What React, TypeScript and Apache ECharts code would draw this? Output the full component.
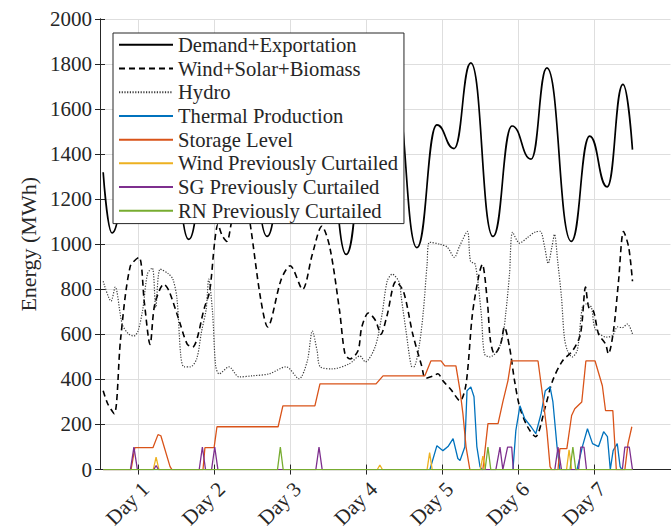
import React, { useEffect, useRef } from "react";
import * as echarts from "echarts";

// x = hour of the week, y = energy (MWh)
const dayTickHours = [12, 36, 60, 84, 108, 132, 156];
const dayLabels = ["Day 1", "Day 2", "Day 3", "Day 4", "Day 5", "Day 6", "Day 7"];
const yTicks = [0, 200, 400, 600, 800, 1000, 1200, 1400, 1600, 1800, 2000];

const seriesNames = [
  "Demand+Exportation",
  "Wind+Solar+Biomass",
  "Hydro",
  "Thermal Production",
  "Storage Level",
  "Wind Previously Curtailed",
  "SG Previously Curtailed",
  "RN Previously Curtailed",
];

// local extrema of demand curve
const demandData = [
  [1, 1320], [3.8, 1050], [10.1, 1500], [15.5, 1420], [21, 1760], [28, 1022],
  [34.3, 1510], [39.7, 1420], [45.5, 1770], [52.7, 1035], [59, 1500], [64.4, 1410],
  [70.5, 1760], [77.7, 955], [84, 1490], [89.4, 1400], [93, 1700], [100, 985],
  [106.3, 1530], [111.7, 1425], [117, 1805], [124, 1035], [130, 1525], [136, 1378],
  [141, 1783], [148.7, 1013], [154.5, 1480], [160, 1255], [165, 1710], [168, 1420],
];

const renewableData = [
  [1, 350], [2.5, 290], [4.5, 248], [6.5, 580], [9.5, 900], [12.3, 942], [14, 740],
  [15.8, 555], [17.3, 735], [20.2, 823], [21.8, 792], [25, 660], [27.5, 557], [29.2, 544],
  [33, 721], [34.6, 792], [36.2, 1013], [37.2, 1088], [38.5, 1040], [40, 1013], [41.5, 1100],
  [43.5, 1230], [45.5, 1250], [47.5, 1080], [50.7, 757], [52.9, 633], [57.2, 845], [60, 905],
  [63.9, 800], [67, 956], [70, 1080], [72.5, 987], [75.6, 703], [77.3, 513], [78.9, 491],
  [81.4, 527], [82.6, 633], [84.7, 695], [87, 660], [88.6, 600], [90.5, 680], [93.4, 835],
  [95.8, 788], [98.7, 600], [101.5, 460], [102.7, 405], [105.2, 416], [106.6, 425],
  [108.2, 394], [110.7, 355], [113.6, 305], [115.5, 380], [117.5, 690], [119.6, 867],
  [120.6, 911], [122.2, 748], [123.2, 571], [124.5, 513], [126.4, 557], [127.6, 633],
  [129.2, 544], [130.8, 394], [132.4, 279], [134.9, 190], [137.4, 146], [140.5, 279],
  [142.8, 394], [145.9, 482], [149.1, 527], [151.6, 602], [153.2, 810], [154.2, 721],
  [155.7, 703], [157.3, 602], [159.5, 557], [160.4, 513], [162, 615], [163.6, 836],
  [165.2, 1057], [166.8, 987], [168, 836],
];

const hydroData = [
  [1, 836], [3.5, 748], [4.8, 810], [7, 646], [9, 602], [10.7, 593], [12, 615], [13.5, 712],
  [15, 870], [16.5, 895], [17.6, 720], [19, 890], [21.5, 870], [23, 845], [24.3, 757],
  [25.5, 504], [26.5, 456], [28.5, 456], [30.5, 491], [32, 610], [33.5, 712], [34.3, 845],
  [35.5, 700], [36.5, 460], [37.6, 425], [40.7, 456], [43.9, 411], [48, 416], [53.4, 425],
  [58.7, 456], [62.8, 403], [65.4, 482], [67, 615], [68.5, 527], [69.5, 456], [73.3, 447],
  [78.6, 469], [82, 504], [83.7, 478], [86.8, 544], [89, 690], [90.6, 836], [92.2, 867],
  [94.4, 832], [95, 770], [96.6, 610], [98.2, 460], [99, 456], [100.7, 549], [102, 700],
  [103.2, 911], [104, 1009], [107.3, 1000], [109.6, 987], [111.8, 942], [113.4, 990],
  [115.9, 1057], [116.9, 925], [118.4, 911], [120.3, 690], [121.3, 513], [123, 500],
  [125.4, 527], [127, 588], [128, 690], [129.2, 867], [130.2, 1053], [132.4, 1005],
  [134.9, 1030], [137.4, 1055], [138.9, 1057], [140.3, 987], [141.4, 915], [142.6, 990],
  [143.4, 1044], [144.4, 925], [145.6, 765], [146.5, 588], [147.5, 527], [149, 500],
  [150.6, 530], [152.2, 721], [153.4, 735], [155, 721], [156, 633], [157.6, 602],
  [159.8, 588], [161.7, 595], [163.3, 633], [164.8, 630], [166.4, 646], [168, 602],
];

const thermalData = [
  [1, 0], [104.1, 0], [106.3, 106], [108.2, 84], [109.8, 102], [111.4, 137], [112.9, 49],
  [113.6, 40], [115.1, 100], [115.8, 350], [117, 367], [118, 323], [118.9, 102], [119.9, 13],
  [120.5, 0], [130.3, 0], [131.2, 173], [132.5, 283], [134, 226], [136, 190], [137.5, 159],
  [139.2, 250], [140.5, 350], [142, 367], [142.9, 300], [144.2, 102], [145.1, 0], [150.5, 0],
  [152.2, 102], [153.8, 181], [155.4, 115], [157.3, 102], [158.9, 168], [160.1, 146],
  [161, 0], [161.9, 84], [163.2, 115], [164.1, 13], [164.6, 0], [168, 0],
];

const storageData = [
  [1, 0], [9.8, 0], [11, 97], [16.7, 97], [18.3, 155], [19.2, 150], [22.1, 13], [22.7, 0],
  [32.5, 0], [33.1, 97], [36, 97], [36.9, 190], [56.2, 190], [57.7, 283], [67.8, 283],
  [69.4, 380], [87.1, 380], [89.3, 416], [102.5, 416], [104.4, 482], [107.6, 482],
  [108.8, 460], [112.3, 460], [113.6, 350], [114.5, 248], [115.5, 100], [116.7, 0],
  [120.8, 0], [122.4, 204], [125.6, 204], [127.1, 300], [128.7, 394], [129.7, 482],
  [138.2, 482], [139.7, 323], [141, 173], [142, 13], [142.5, 0], [144.5, 0], [145.1, 93],
  [147.3, 93], [148.8, 240], [149.8, 270], [152, 300], [153.3, 482], [156.2, 482],
  [158.5, 372], [159.5, 262], [161.8, 262], [162.9, 0], [165.6, 0], [166.6, 115],
  [167.8, 190], [168, 190],
];

const windCurtData = [
  [1, 0], [16.8, 0], [17.7, 55], [18.6, 0], [87.5, 0], [88.3, 20], [89.1, 0], [103.2, 0],
  [104, 75], [104.8, 0], [120, 0], [120.8, 60], [121.6, 0], [147.2, 0], [148, 88],
  [148.8, 0], [168, 0],
];

const sgCurtData = [
  [1, 0], [9.6, 0], [10.7, 100], [11.8, 0], [17, 0], [17.7, 18], [18.4, 0], [31.3, 0],
  [32.3, 100], [33.3, 0], [35.2, 0], [36.2, 100], [37.2, 0], [68.1, 0], [69.1, 100],
  [70.1, 0], [124.9, 0], [126.2, 100], [127.1, 0], [128.6, 100], [129.9, 100], [130.4, 0],
  [143.5, 0], [144.5, 100], [145.6, 0], [151, 0], [151.7, 100], [152.7, 100], [153.5, 0],
  [164.8, 0], [165.6, 100], [167, 100], [168, 0],
];

const rnCurtData = [
  [1, 0], [56, 0], [56.9, 100], [57.8, 0], [121.5, 0], [122.4, 100], [123.3, 0],
  [148.3, 0], [149.2, 100], [150.1, 0], [168, 0],
];

const seriesColors = ["#000000", "#000000", "#3a3a3a", "#0072BD", "#D95319", "#EDB120", "#7E2F8E", "#77AC30"];

const FONT = "'Liberation Serif', 'Times New Roman', 'DejaVu Serif', serif";
const AXIS_COLOR = "#262626";

export default function App() {
  const ref = useRef<HTMLDivElement>(null);

  useEffect(() => {
    if (!ref.current) return;
    const chart = echarts.init(ref.current, undefined, { renderer: "svg" });

    const dataSets = [demandData, renewableData, hydroData, thermalData, storageData, windCurtData, sgCurtData, rnCurtData];

    const series: any[] = dataSets.map((d, i) => {
      const base: any = {
        name: seriesNames[i],
        type: "line",
        data: d,
        symbol: "none",
        xAxisIndex: 0,
        yAxisIndex: 0,
        color: seriesColors[i],
        lineStyle: { color: seriesColors[i], width: 1.3 },
        z: 2 + i * 0.01,
      };
      if (i === 0) {
        base.smooth = 0.5;
        base.smoothMonotone = "x";
        base.lineStyle = { color: "#000", width: 1.7 };
      } else if (i === 1) {
        base.smooth = 0.3;
        base.lineStyle = { color: "#000", width: 1.6, type: [6, 4] };
      } else if (i === 2) {
        base.smooth = 0.3;
        base.lineStyle = { color: seriesColors[2], width: 1.2, type: [1.2, 1.5] };
      }
      return base;
    });

    chart.setOption({
      animation: false,
      backgroundColor: "#ffffff",
      textStyle: { fontFamily: FONT },
      grid: { left: 100, top: 19, right: 1.5, bottom: 60, containLabel: false },
      legend: {
        data: seriesNames,
        orient: "vertical",
        left: 113,
        top: 33,
        padding: [0, 6, 1, 5],
        itemWidth: 54,
        itemHeight: 14,
        itemGap: 0,
        itemStyle: { opacity: 0 },
        backgroundColor: "#ffffff",
        borderColor: AXIS_COLOR,
        borderWidth: 1,
        textStyle: { fontFamily: FONT, fontSize: 20.6, color: AXIS_COLOR, lineHeight: 23.7 },
        z: 10,
      },
      xAxis: [
        {
          type: "value",
          min: 0,
          max: 180,
          position: "bottom",
          axisLine: { show: true, lineStyle: { color: AXIS_COLOR, width: 1 } },
          axisTick: { show: true, inside: true, length: 5, customValues: dayTickHours, lineStyle: { color: AXIS_COLOR } },
          axisLabel: {
            show: true,
            customValues: dayTickHours,
            rotate: 45,
            verticalAlign: "top",
            margin: 8.6,
            fontFamily: FONT,
            fontSize: 21,
            color: AXIS_COLOR,
            formatter: (v: number) => {
              const idx = dayTickHours.indexOf(Math.round(v));
              return idx >= 0 ? dayLabels[idx] : "";
            },
          },
          splitLine: { show: true, lineStyle: { color: "#dedede", width: 1 } },
        },
        {
          type: "value",
          min: 0,
          max: 180,
          position: "top",
          axisLine: { show: true, lineStyle: { color: AXIS_COLOR, width: 1 } },
          axisTick: { show: true, inside: true, length: 5, customValues: dayTickHours, lineStyle: { color: AXIS_COLOR } },
          axisLabel: { show: false },
          splitLine: { show: false },
        },
      ],
      yAxis: [
        {
          type: "value",
          min: yTicks[0],
          max: yTicks[yTicks.length - 1],
          interval: 200,
          position: "left",
          name: "Energy (MWh)",
          nameLocation: "middle",
          nameGap: 52,
          nameTextStyle: { fontFamily: FONT, fontSize: 22, color: AXIS_COLOR },
          axisLine: { show: true, lineStyle: { color: AXIS_COLOR, width: 1 } },
          axisTick: { show: true, inside: true, length: 5, lineStyle: { color: AXIS_COLOR } },
          axisLabel: {
            fontFamily: FONT,
            fontSize: 21,
            color: AXIS_COLOR,
            margin: 8,
            formatter: (v: number) => String(v),
          },
          splitLine: { show: true, lineStyle: { color: "#dedede", width: 1 } },
        },
        {
          type: "value",
          min: yTicks[0],
          max: yTicks[yTicks.length - 1],
          interval: 200,
          position: "right",
          axisLine: { show: true, lineStyle: { color: AXIS_COLOR, width: 1 } },
          axisTick: { show: true, inside: true, length: 5, lineStyle: { color: AXIS_COLOR } },
          axisLabel: { show: false },
          splitLine: { show: false },
        },
      ],
      series,
    });

    return () => chart.dispose();
  }, []);

  return (
    <div
      ref={ref}
      style={{ position: "absolute", left: 0, top: 0, width: 672, height: 531, background: "#fff" }}
    />
  );
}
